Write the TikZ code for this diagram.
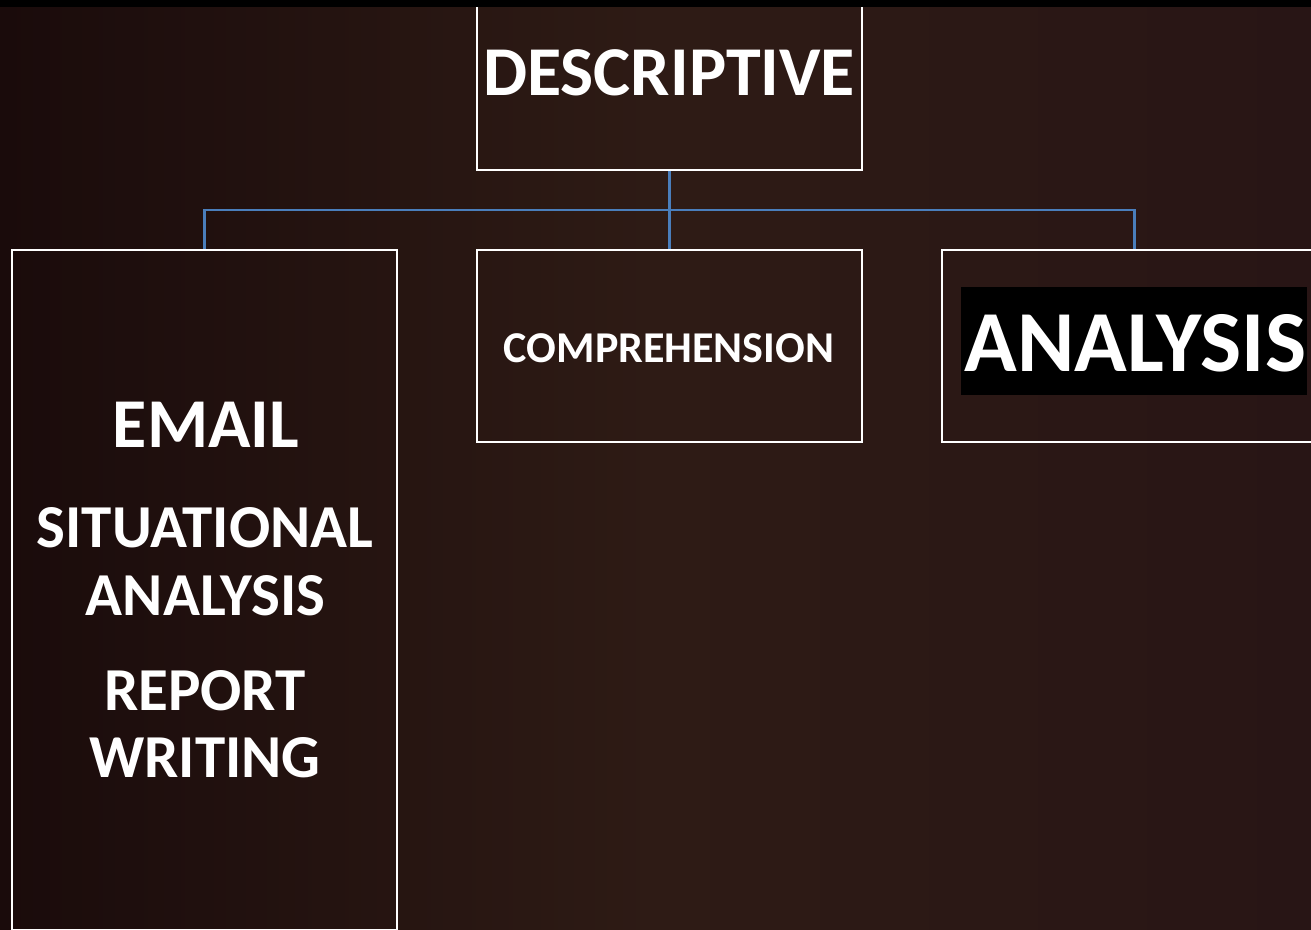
\documentclass[tikz,border=0pt]{standalone}
\usepackage{fontspec}
\setmainfont{Carlito}
\definecolor{connblue}{HTML}{4A7EBB}
\definecolor{bgleft}{HTML}{1A0B0B}
\definecolor{bgmid}{HTML}{2E1B15}
\definecolor{bgright}{HTML}{281515}
\begin{document}
\begin{tikzpicture}[x=1pt,y=-1pt,
  box/.style={draw=white, line width=1.8pt, minimum width=385pt, inner sep=0pt},
  conn/.style={draw=connblue, line width=2.4pt},
  lbl/.style={text=white, font=\bfseries, inner sep=0pt}]
\useasboundingbox (0,0) rectangle (1311,929);
\clip (0,0) rectangle (1311,929);
\shade[left color=bgleft, right color=bgright, middle color=bgmid] (0,0) rectangle (1311,929);
% boxes
\coordinate (bus) at (669.5,210);
\node[box, minimum height=198pt] (top) at (669.5,71) {};
\node[box, minimum height=192pt] (mid) at (669.5,346) {};
\node[box, minimum height=192pt] (right) at (1134.5,346) {};
\node[box, minimum height=680pt] (left) at (204.5,590) {};
% connectors
\draw[conn] (top.south) -- (bus);
\draw[conn] (bus) -- (mid.north);
\draw[conn] (bus) -| (left.north);
\draw[conn] (bus) -| (right.north);
% texts
\node[lbl, anchor=base, font=\bfseries\fontsize{70}{78}\selectfont] (tdesc) at (669,95) {DESCRIPTIVE};
\node[lbl, anchor=base, font=\bfseries\fontsize{44}{50}\selectfont] (tcomp) at (669,362) {COMPREHENSION};
\node[fill=black, minimum width=346pt, minimum height=108pt, inner sep=0pt] (hl) at (1134,341) {};
\node[lbl, anchor=base, font=\bfseries\fontsize{87}{95}\selectfont] (tana) at (1135.5,371) {ANALYSIS};
\node[lbl, anchor=base, font=\bfseries\fontsize{70}{80}\selectfont] (temail) at (206,447) {EMAIL};
\node[lbl, anchor=base, font=\bfseries\fontsize{61}{70}\selectfont] (tsit) at (205,547) {SITUATIONAL};
\node[lbl, anchor=base, font=\bfseries\fontsize{61}{70}\selectfont] (tana2) at (205.5,615) {ANALYSIS};
\node[lbl, anchor=base, font=\bfseries\fontsize{61}{70}\selectfont] (trep) at (205,710) {REPORT};
\node[lbl, anchor=base, font=\bfseries\fontsize{61}{70}\selectfont] (twri) at (205,777) {WRITING};
\fill[black] (0,0) rectangle (1311,7);
\end{tikzpicture}
\end{document}
